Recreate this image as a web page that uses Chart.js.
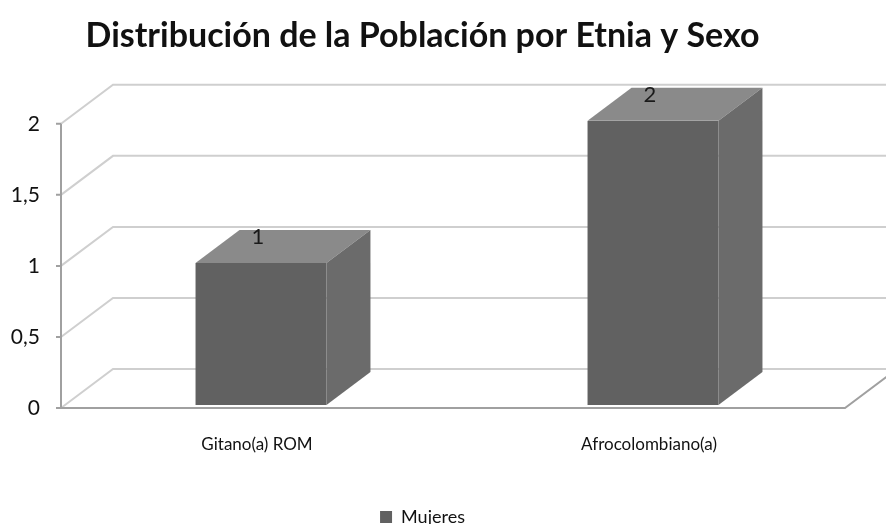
<!DOCTYPE html>
<html>
<head>
<meta charset="utf-8">
<script src="https://cdn.jsdelivr.net/npm/chart.js@4"></script>
<style>
  html, body { margin: 0; padding: 0; background: #fff; overflow: hidden; }
  #wrap { width: 886px; height: 524px; }
</style>
</head>
<body>
<div id="wrap"><canvas id="chart" width="886" height="524"></canvas></div>
<script>
const categories = ['Gitano(a) ROM', 'Afrocolombiano(a)'];
const mujeres = [1, 2];
const yTickLabels = ['0', '0,5', '1', '1,5', '2'];
const seriesName = 'Mujeres';

const FONT = 'Lato, "Open Sans", sans-serif';

// fake 3D: wall depth and bar depth (pixels)
const WALL_DX = 52, WALL_DY = -39;
const BAR_DX = 44, BAR_DY = -33;
const BAR_SHIFT_X = 4, BAR_SHIFT_Y = -3;

const threeD = {
  id: 'threeD',
  beforeDatasetsDraw(chart) {
    const { ctx, chartArea, scales } = chart;
    const y = scales.y;
    const left = chartArea.left, right = chartArea.right;
    ctx.save();
    ctx.lineWidth = 2;
    // back wall gridlines
    ctx.strokeStyle = '#cfcfcf';
    y.ticks.forEach(t => {
      const py = y.getPixelForValue(t.value);
      ctx.beginPath();
      ctx.moveTo(left, py);
      ctx.lineTo(left + WALL_DX, py + WALL_DY);
      ctx.lineTo(chart.width + 20, py + WALL_DY);
      ctx.stroke();
    });
    // floor front edge
    const py0 = y.getPixelForValue(0);
    ctx.strokeStyle = '#a0a0a0';
    ctx.beginPath();
    ctx.moveTo(left, py0);
    ctx.lineTo(right, py0);
    ctx.lineTo(right + WALL_DX, py0 + WALL_DY);
    ctx.stroke();
    // value axis and ticks
    ctx.beginPath();
    ctx.moveTo(left, y.getPixelForValue(2));
    ctx.lineTo(left, py0);
    y.ticks.forEach(t => {
      const py = y.getPixelForValue(t.value);
      ctx.moveTo(left - 5, py);
      ctx.lineTo(left, py);
    });
    ctx.stroke();
    ctx.restore();
    ctx.save();
    ctx.translate(BAR_SHIFT_X, BAR_SHIFT_Y);
  },
  afterDatasetsDraw(chart) {
    const { ctx } = chart;
    const meta = chart.getDatasetMeta(0);
    meta.data.forEach((bar, i) => {
      const p = bar.getProps(['x', 'y', 'base', 'width'], true);
      const x0 = p.x - p.width / 2, x1 = p.x + p.width / 2;
      // top face
      ctx.fillStyle = '#8a8a8a';
      ctx.beginPath();
      ctx.moveTo(x0, p.y);
      ctx.lineTo(x1, p.y);
      ctx.lineTo(x1 + BAR_DX, p.y + BAR_DY);
      ctx.lineTo(x0 + BAR_DX, p.y + BAR_DY);
      ctx.closePath();
      ctx.fill();
      // right face
      ctx.fillStyle = '#6b6b6b';
      ctx.beginPath();
      ctx.moveTo(x1, p.y);
      ctx.lineTo(x1 + BAR_DX, p.y + BAR_DY);
      ctx.lineTo(x1 + BAR_DX, p.base + BAR_DY);
      ctx.lineTo(x1, p.base);
      ctx.closePath();
      ctx.fill();
      // value label
      ctx.fillStyle = '#1a1a1a';
      ctx.font = '22px ' + FONT;
      ctx.textAlign = 'center';
      ctx.textBaseline = 'middle';
      ctx.fillText(String(mujeres[i]), p.x - 3, p.y - 26);
    });
    ctx.restore();
  }
};

new Chart(document.getElementById('chart'), {
  type: 'bar',
  data: {
    labels: categories,
    datasets: [{
      label: seriesName,
      data: mujeres,
      backgroundColor: '#616161',
      borderWidth: 0,
      barPercentage: 0.334,
      categoryPercentage: 1
    }]
  },
  options: {
    responsive: false,
    animation: false,
    layout: { padding: { left: 0, right: 41, top: 0, bottom: -12 } },
    plugins: {
      title: {
        display: true,
        text: 'Distribución de la Población por Etnia y Sexo',
        color: '#111',
        font: { family: FONT, size: 34, weight: 'bold' },
        padding: { top: 16, bottom: 67 }
      },
      legend: {
        position: 'bottom',
        labels: {
          color: '#111',
          font: { family: FONT, size: 18 },
          boxWidth: 12,
          boxHeight: 12,
          padding: 10
        }
      },
      tooltip: { enabled: false }
    },
    scales: {
      x: {
        grid: { display: false, drawTicks: false },
        border: { display: false },
        ticks: { color: '#111', font: { family: FONT, size: 17 }, padding: 26 },
        afterFit(scale) { scale.height = 90; }
      },
      y: {
        min: 0,
        max: 2,
        grid: { display: false, drawTicks: false },
        border: { display: false },
        ticks: {
          stepSize: 0.5,
          color: '#111',
          padding: 21,
          font: { family: FONT, size: 21 },
          callback: (v, i) => yTickLabels[i]
        },
        afterFit(scale) { scale.width = 61; }
      }
    }
  },
  plugins: [threeD]
});
</script>
</body>
</html>
